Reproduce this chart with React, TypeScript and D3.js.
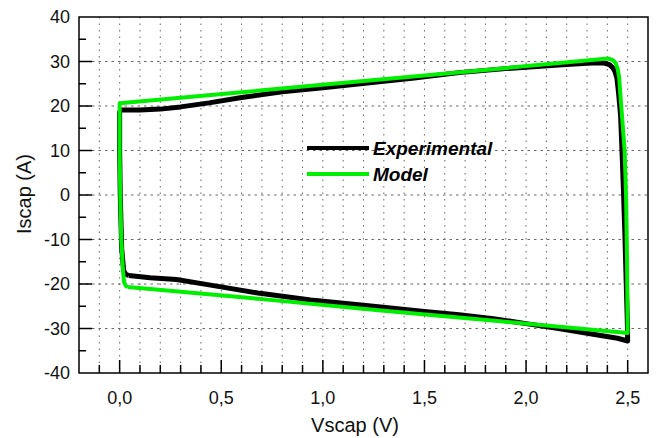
import React from "react";
import * as d3 from "d3";

// experimental loop (V, A)
const expVolts = [0.045, 0.03, 0.02, 0.01, 0.003, 0.0, 0.0, 0.005, 0.1, 0.2, 0.3, 0.44, 0.6, 0.8, 1.0, 1.23, 1.45, 1.67, 1.9, 2.16, 2.3, 2.36, 2.39, 2.41, 2.425, 2.437, 2.447, 2.455, 2.465, 2.472, 2.48, 2.487, 2.493, 2.498, 2.5, 2.45, 2.33, 2.16, 2.0, 1.84, 1.67, 1.5, 1.2, 0.94, 0.69, 0.44, 0.28, 0.15, 0.045];
const expAmps = [-18.1, -17.8, -17.0, -12, 0, 10, 18.6, 19.1, 19.1, 19.3, 19.8, 20.7, 21.9, 23.2, 24.1, 25.2, 26.3, 27.5, 28.4, 29.2, 29.6, 29.7, 29.6, 29.3, 28.7, 27.8, 26.3, 23, 18, 10, 0, -10, -20, -28, -32.8, -32.2, -31.3, -30.0, -28.9, -27.8, -26.9, -26.2, -24.8, -23.6, -22.1, -20.2, -19.0, -18.6, -18.1];

// model loop
const modelVolts = [0.04, 0.03, 0.022, 0.016, 0.008, 0.003, 0.0, 0.0, 0.6, 1.2, 1.8, 2.39, 2.41, 2.427, 2.44, 2.45, 2.458, 2.465, 2.475, 2.485, 2.492, 2.497, 2.5, 1.9, 1.3, 0.7, 0.04];
const modelAmps = [-20.7, -20.4, -19.6, -16.8, -10, 0, 10, 20.6, 23.1, 25.6, 28.1, 30.6, 30.6, 30.3, 29.7, 28.5, 26.5, 22, 16, 10, 0, -15, -31, -28.5, -26.0, -23.4, -20.7];

const xTicks = [0, 0.5, 1.0, 1.5, 2.0, 2.5];
const yTicks = [-40, -30, -20, -10, 0, 10, 20, 30, 40];
const seriesNames = ["Experimental", "Model"];

const W = 658, H = 438;
const margin = { top: 17, right: 10, bottom: 65, left: 79 };

export default function App() {
  const x = d3.scaleLinear().domain([-0.2, 2.6]).range([margin.left, W - margin.right]);
  const y = d3.scaleLinear().domain([-40, 40]).range([H - margin.bottom, margin.top]);
  const x0 = x.range()[0], x1 = x.range()[1];
  const y0 = y.range()[1], y1 = y.range()[0];

  const line = d3.line<[number, number]>()
    .x(d => x(d[0]))
    .y(d => y(d[1]));

  const expPts = expVolts.map((v, i) => [v, expAmps[i]] as [number, number]);
  const modelPts = modelVolts.map((v, i) => [v, modelAmps[i]] as [number, number]);

  const xMinor = d3.range(-1, 26).map(i => i / 10);
  const yMinor = d3.range(-35, 40, 10);
  const fmt = (v: number) => v.toFixed(1).replace(".", ",");
  const font = "Arial, 'Liberation Sans', Helvetica, sans-serif";

  return (
    <svg width={W} height={H} style={{ position: "absolute", left: 0, top: 0, background: "#fff" }} fontFamily={font}>
      {/* grid */}
      {xMinor.map(v => (
        <line key={"gx" + v} x1={x(v)} x2={x(v)} y1={y0} y2={y1} stroke="#666" strokeWidth={1} strokeDasharray="1.5,5" />
      ))}
      {yTicks.slice(1, -1).map(v => (
        <line key={"gy" + v} x1={x0} x2={x1} y1={y(v)} y2={y(v)} stroke="#666" strokeWidth={1} strokeDasharray="2.5,4" />
      ))}

      {/* curves */}
      <path d={line(expPts) || ""} fill="none" stroke="#000" strokeWidth={5} strokeLinejoin="round" />
      <path d={line(modelPts) || ""} fill="none" stroke="#00ee00" strokeWidth={4} strokeLinejoin="round" />

      {/* frame */}
      <rect x={x0} y={y0} width={x1 - x0} height={y1 - y0} fill="none" stroke="#000" strokeWidth={1.5} />

      {/* ticks */}
      {xMinor.map(v => {
        const major = xTicks.some(t => Math.abs(t - v) < 1e-6);
        return <line key={"tx" + v} x1={x(v)} x2={x(v)} y1={y1} y2={y1 - (major ? 13 : 8)} stroke="#000" strokeWidth={1.5} />;
      })}
      {yTicks.slice(1, -1).map(v => (
        <line key={"ty" + v} x1={x0} x2={x0 + 13} y1={y(v)} y2={y(v)} stroke="#000" strokeWidth={1.5} />
      ))}
      {yMinor.map(v => (
        <line key={"tym" + v} x1={x0} x2={x0 + 7} y1={y(v)} y2={y(v)} stroke="#000" strokeWidth={1.5} />
      ))}

      {/* tick labels */}
      {xTicks.map(v => (
        <text key={"lx" + v} x={x(v)} y={y1 + 31} textAnchor="middle" fontSize={18} fill="#111">{fmt(v)}</text>
      ))}
      {yTicks.map(v => (
        <text key={"ly" + v} x={x0 - 9} y={y(v)} dy="0.36em" textAnchor="end" fontSize={18} fill="#111">{v}</text>
      ))}

      {/* axis titles */}
      <text x={355} y={432} textAnchor="middle" fontSize={20} fill="#111">Vscap (V)</text>
      <text transform={`translate(31,194) rotate(-90)`} textAnchor="middle" fontSize={20} fill="#111">Iscap (A)</text>

      {/* legend */}
      {seriesNames.map((name, i) => (
        <g key={name} transform={`translate(307,${148 + i * 26})`}>
          <line x1={0} x2={62} y1={0} y2={0} stroke={i === 0 ? "#000" : "#00ee00"} strokeWidth={4} />
          <text x={66} y={0} dy="0.36em" fontSize={19} fontWeight="bold" fontStyle="italic" fill="#000">{name}</text>
        </g>
      ))}
    </svg>
  );
}
